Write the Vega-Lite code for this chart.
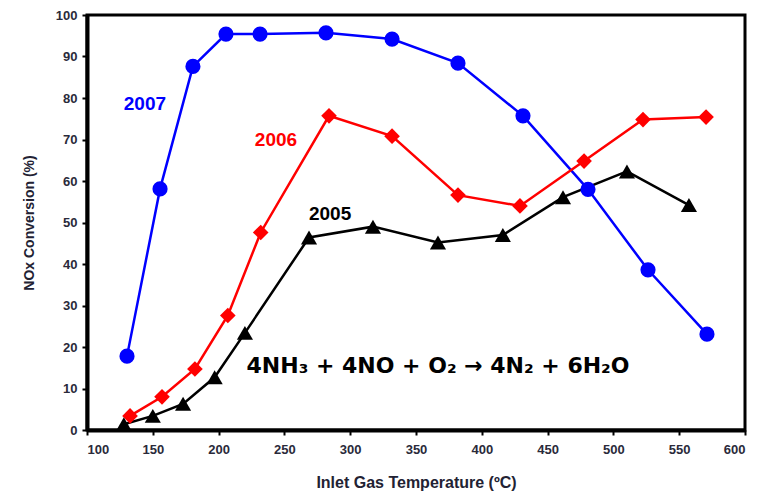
{
  "$schema": "https://vega.github.io/schema/vega-lite/v6.json",
  "width": 658,
  "height": 415,
  "autosize": {"type": "none"},
  "padding": {"left": 87, "top": 15, "right": 14, "bottom": 64},
  "background": "white",
  "config": {
    "view": {"stroke": "black", "strokeWidth": 3},
    "font": "Liberation Sans"
  },
  "datasets": {
    "pts": [
      {"series": "2007", "T": 130.4, "NOx": 17.8},
      {"series": "2007", "T": 155.5, "NOx": 58.1},
      {"series": "2007", "T": 180.5, "NOx": 87.6},
      {"series": "2007", "T": 205.6, "NOx": 95.4},
      {"series": "2007", "T": 231.5, "NOx": 95.4},
      {"series": "2007", "T": 281.6, "NOx": 95.7},
      {"series": "2007", "T": 331.8, "NOx": 94.2},
      {"series": "2007", "T": 381.9, "NOx": 88.4},
      {"series": "2007", "T": 431.3, "NOx": 75.7},
      {"series": "2007", "T": 480.7, "NOx": 58.0},
      {"series": "2007", "T": 526.3, "NOx": 38.6},
      {"series": "2007", "T": 571.1, "NOx": 23.1},
      {"series": "2006", "T": 132.7, "NOx": 3.4},
      {"series": "2006", "T": 157.0, "NOx": 8.0},
      {"series": "2006", "T": 182.0, "NOx": 14.7},
      {"series": "2006", "T": 207.0, "NOx": 27.6},
      {"series": "2006", "T": 232.0, "NOx": 47.6},
      {"series": "2006", "T": 283.9, "NOx": 75.7},
      {"series": "2006", "T": 331.8, "NOx": 70.8},
      {"series": "2006", "T": 381.9, "NOx": 56.6},
      {"series": "2006", "T": 429.0, "NOx": 54.0},
      {"series": "2006", "T": 477.7, "NOx": 64.8},
      {"series": "2006", "T": 522.5, "NOx": 74.8},
      {"series": "2006", "T": 570.4, "NOx": 75.4},
      {"series": "2005", "T": 128.0, "NOx": 1.4},
      {"series": "2005", "T": 150.0, "NOx": 3.4},
      {"series": "2005", "T": 173.0, "NOx": 6.3},
      {"series": "2005", "T": 197.0, "NOx": 12.7},
      {"series": "2005", "T": 220.0, "NOx": 23.4},
      {"series": "2005", "T": 268.7, "NOx": 46.4},
      {"series": "2005", "T": 317.3, "NOx": 49.0},
      {"series": "2005", "T": 366.7, "NOx": 45.2},
      {"series": "2005", "T": 416.0, "NOx": 47.0},
      {"series": "2005", "T": 461.7, "NOx": 56.1},
      {"series": "2005", "T": 510.3, "NOx": 62.3},
      {"series": "2005", "T": 557.4, "NOx": 54.2}
    ],
    "labels": [
      {"series": "2007", "T": 144, "NOx": 78.6, "txt": "2007"},
      {"series": "2006", "T": 243.6, "NOx": 69.9, "txt": "2006"},
      {"series": "2005", "T": 284.7, "NOx": 52.0, "txt": "2005"}
    ],
    "eq": [
      {"T": 366.7, "NOx": 15.4, "txt": "4NH₃ + 4NO + O₂ → 4N₂ + 6H₂O"}
    ]
  },
  "layer": [
    {
      "data": {"name": "pts"},
      "mark": {"type": "line", "strokeWidth": 2.5},
      "encoding": {
        "x": {"field": "T", "type": "quantitative",
          "scale": {"domain": [100, 600], "nice": false, "zero": false},
          "axis": {"values": [100,150,200,250,300,350,400,450,500,550,600], "title": "Inlet Gas Temperature (ºC)",
            "titleFontSize": 16, "titleFontWeight": "bold", "titleColor": "#222233", "titlePadding": 18,
            "labelFontSize": 13, "labelFontWeight": "bold", "labelColor": "#2a2a3a", "labelPadding": 8,
            "domainColor": "black", "domainWidth": 4, "tickColor": "black", "tickWidth": 2, "tickSize": 5, "grid": false}},
        "y": {"field": "NOx", "type": "quantitative",
          "scale": {"domain": [0, 100], "nice": false},
          "axis": {"values": [0,10,20,30,40,50,60,70,80,90,100], "title": "NOx Conversion (%)",
            "titleFontSize": 14, "titleFontWeight": "bold", "titleColor": "#222233", "titlePadding": 19,
            "labelFontSize": 13, "labelFontWeight": "bold", "labelColor": "#2a2a3a", "labelPadding": 5,
            "domainColor": "black", "domainWidth": 4, "tickColor": "black", "tickWidth": 2, "tickSize": 5, "grid": false}},
        "color": {"field": "series", "type": "nominal",
          "scale": {"domain": ["2007", "2006", "2005"], "range": ["#0000ff", "#ff0000", "#000000"]},
          "legend": null},
        "detail": {"field": "series"}
      }
    },
    {
      "data": {"name": "pts"},
      "mark": {"type": "point", "filled": true, "opacity": 1},
      "encoding": {
        "x": {"field": "T", "type": "quantitative"},
        "y": {"field": "NOx", "type": "quantitative"},
        "color": {"field": "series", "type": "nominal", "legend": null},
        "shape": {"field": "series", "type": "nominal",
          "scale": {"domain": ["2007", "2006", "2005"], "range": ["circle", "diamond", "triangle-up"]},
          "legend": null},
        "size": {"field": "series", "type": "nominal",
          "scale": {"domain": ["2007", "2006", "2005"], "range": [230, 260, 230]},
          "legend": null}
      }
    },
    {
      "data": {"name": "labels"},
      "mark": {"type": "text", "fontSize": 19, "fontWeight": "bold", "align": "center", "baseline": "middle"},
      "encoding": {
        "x": {"field": "T", "type": "quantitative"},
        "y": {"field": "NOx", "type": "quantitative"},
        "text": {"field": "txt"},
        "color": {"field": "series", "type": "nominal",
          "scale": {"domain": ["2007", "2006", "2005"], "range": ["#0000ff", "#ff0000", "#000000"]},
          "legend": null}
      }
    },
    {
      "data": {"name": "eq"},
      "mark": {"type": "text", "font": "DejaVu Sans", "fontSize": 22, "fontWeight": "bold", "align": "center", "baseline": "middle", "color": "black"},
      "encoding": {
        "x": {"field": "T", "type": "quantitative"},
        "y": {"field": "NOx", "type": "quantitative"},
        "text": {"field": "txt"}
      }
    }
  ]
}
